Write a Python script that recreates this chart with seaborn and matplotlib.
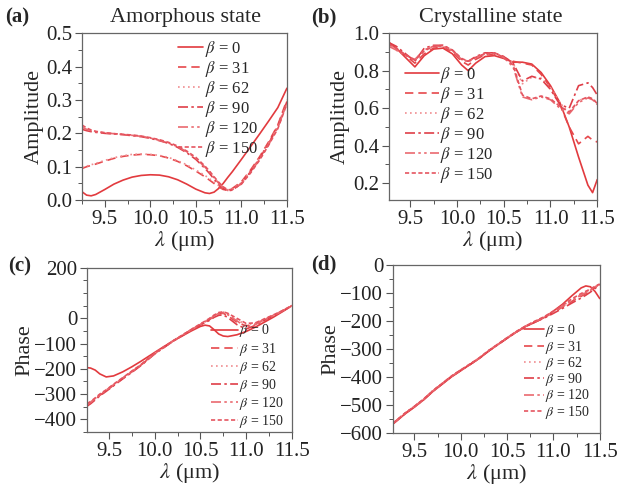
import matplotlib
matplotlib.use("Agg")
import matplotlib.pyplot as plt
from matplotlib.ticker import MultipleLocator
import numpy as np
import pandas as pd
import seaborn as sns

# values

betas = [0, 31, 62, 90, 120, 150]

# (a) amorphous state amplitude
wl_a = [9.25, 9.3, 9.35, 9.4, 9.5, 9.6, 9.7, 9.8, 9.9, 10.0, 10.1, 10.2, 10.3, 10.4,
        10.5, 10.6, 10.65, 10.7, 10.75, 10.8, 10.85, 10.9, 11.0, 11.1, 11.2, 11.3, 11.4, 11.5]
amp_a_0 = [0.025, 0.015, 0.013, 0.017, 0.032, 0.048, 0.060, 0.069, 0.074, 0.076, 0.075, 0.070, 0.061, 0.048,
           0.033, 0.022, 0.020, 0.024, 0.035, 0.050, 0.068, 0.085, 0.122, 0.160, 0.198, 0.237, 0.277, 0.335]
amp_a_31 = [0.095, 0.100, 0.104, 0.108, 0.117, 0.125, 0.131, 0.135, 0.137, 0.136, 0.133, 0.126, 0.116, 0.103,
            0.087, 0.070, 0.060, 0.050, 0.040, 0.032, 0.030, 0.035, 0.055, 0.090, 0.130, 0.175, 0.225, 0.300]
amp_a_62 = [0.098, 0.102, 0.106, 0.110, 0.119, 0.127, 0.133, 0.137, 0.138, 0.137, 0.134, 0.128, 0.118, 0.106,
            0.090, 0.074, 0.064, 0.054, 0.044, 0.035, 0.031, 0.034, 0.052, 0.087, 0.127, 0.172, 0.222, 0.295]
amp_a_90 = [0.212, 0.208, 0.205, 0.203, 0.200, 0.198, 0.196, 0.193, 0.190, 0.185, 0.178, 0.170, 0.158, 0.142,
            0.122, 0.095, 0.080, 0.063, 0.048, 0.035, 0.028, 0.030, 0.050, 0.085, 0.125, 0.170, 0.220, 0.295]
amp_a_120 = [0.218, 0.212, 0.208, 0.205, 0.201, 0.199, 0.197, 0.194, 0.191, 0.186, 0.179, 0.171, 0.160, 0.145,
             0.125, 0.099, 0.084, 0.067, 0.051, 0.037, 0.029, 0.031, 0.049, 0.083, 0.122, 0.167, 0.217, 0.290]
amp_a_150 = [0.225, 0.216, 0.210, 0.206, 0.202, 0.199, 0.197, 0.195, 0.192, 0.187, 0.181, 0.173, 0.162, 0.147,
             0.128, 0.102, 0.087, 0.070, 0.054, 0.040, 0.031, 0.032, 0.048, 0.081, 0.120, 0.165, 0.214, 0.288]

# (b) crystalline state amplitude
wl_b = [9.27, 9.35, 9.45, 9.55, 9.65, 9.75, 9.85, 9.95, 10.05, 10.12, 10.2, 10.3, 10.4, 10.5,
        10.6, 10.7, 10.8, 10.9, 11.0, 11.1, 11.2, 11.3, 11.4, 11.45, 11.5]
amp_b_0 = [0.95, 0.92, 0.87, 0.82, 0.88, 0.915, 0.92, 0.89, 0.83, 0.80, 0.84, 0.875, 0.88, 0.865,
           0.845, 0.845, 0.835, 0.79, 0.72, 0.63, 0.50, 0.34, 0.19, 0.15, 0.22]
amp_b_31 = [0.95, 0.92, 0.88, 0.84, 0.89, 0.92, 0.925, 0.90, 0.85, 0.83, 0.86, 0.885, 0.885, 0.87,
            0.85, 0.84, 0.83, 0.78, 0.71, 0.62, 0.50, 0.41, 0.45, 0.43, 0.42]
amp_b_62 = [0.94, 0.91, 0.88, 0.86, 0.91, 0.93, 0.93, 0.91, 0.86, 0.845, 0.87, 0.89, 0.89, 0.875,
            0.84, 0.73, 0.765, 0.76, 0.71, 0.63, 0.57, 0.64, 0.66, 0.65, 0.63]
amp_b_90 = [0.95, 0.93, 0.89, 0.85, 0.92, 0.935, 0.935, 0.91, 0.86, 0.85, 0.875, 0.895, 0.895, 0.875,
            0.84, 0.745, 0.77, 0.755, 0.70, 0.62, 0.60, 0.72, 0.735, 0.71, 0.67]
amp_b_120 = [0.93, 0.91, 0.88, 0.86, 0.91, 0.93, 0.93, 0.905, 0.86, 0.85, 0.87, 0.89, 0.895, 0.87,
             0.82, 0.66, 0.645, 0.66, 0.645, 0.60, 0.57, 0.63, 0.655, 0.645, 0.62]
amp_b_150 = [0.94, 0.92, 0.885, 0.855, 0.905, 0.93, 0.935, 0.91, 0.865, 0.85, 0.87, 0.89, 0.895, 0.87,
             0.83, 0.67, 0.65, 0.665, 0.65, 0.61, 0.58, 0.64, 0.66, 0.65, 0.625]

# (c) amorphous state phase
wl_c = [9.26, 9.3, 9.35, 9.4, 9.47, 9.55, 9.65, 9.75, 9.85, 10.0, 10.1, 10.2, 10.3, 10.4,
        10.5, 10.55, 10.6, 10.65, 10.7, 10.75, 10.8, 10.9, 11.0, 11.1, 11.2, 11.3, 11.4, 11.5]
ph_c_0 = [-195, -197, -205, -220, -232, -228, -212, -192, -170, -135, -112, -90, -70, -50,
          -32, -27, -30, -45, -62, -70, -72, -65, -52, -35, -15, 5, 27, 50]
ph_c_31 = [-345, -335, -320, -305, -287, -265, -238, -212, -185, -140, -115, -90, -68, -45,
           -25, -15, -5, 8, 18, 20, 10, -15, -30, -22, -5, 12, 30, 50]
ph_c_62 = [-340, -331, -317, -302, -284, -262, -236, -210, -184, -139, -114, -89, -67, -44,
           -23, -12, -1, 12, 22, 25, 18, -5, -25, -20, -3, 13, 31, 50]
ph_c_90 = [-348, -338, -323, -307, -289, -267, -240, -214, -187, -141, -116, -91, -69, -46,
           -26, -17, -8, 4, 12, 14, 3, -25, -42, -28, -8, 10, 29, 49]
ph_c_120 = [-342, -333, -318, -303, -285, -263, -237, -211, -185, -140, -115, -90, -68, -45,
            -24, -14, -3, 10, 20, 22, 14, -10, -35, -25, -6, 11, 30, 50]
ph_c_150 = [-338, -329, -315, -300, -283, -261, -235, -209, -183, -138, -113, -89, -67, -44,
            -22, -11, 0, 13, 23, 26, 20, 0, -20, -18, -2, 14, 31, 51]

# (d) crystalline state phase
wl_d = [9.27, 9.4, 9.5, 9.6, 9.7, 9.8, 9.9, 10.0, 10.1, 10.2, 10.3, 10.4, 10.5,
        10.6, 10.7, 10.8, 10.9, 11.0, 11.1, 11.2, 11.3, 11.35, 11.4, 11.45, 11.5]
ph_d_0 = [-568, -532, -508, -482, -452, -426, -400, -378, -356, -334, -308, -285, -262,
          -240, -220, -205, -188, -165, -140, -110, -82, -75, -78, -95, -120]
ph_d_31 = [-566, -530, -506, -480, -450, -424, -398, -376, -355, -333, -307, -284, -261,
           -239, -219, -203, -188, -170, -150, -130, -112, -102, -92, -80, -68]
ph_d_62 = [-565, -529, -505, -479, -449, -423, -397, -375, -354, -332, -306, -283, -260,
           -238, -218, -202, -186, -167, -146, -125, -106, -97, -88, -78, -70]
ph_d_90 = [-567, -531, -507, -481, -451, -425, -399, -377, -356, -334, -308, -285, -262,
           -240, -220, -204, -190, -173, -155, -136, -118, -108, -97, -84, -70]
ph_d_120 = [-566, -530, -506, -480, -450, -424, -398, -376, -355, -333, -307, -284, -261,
            -239, -219, -203, -187, -168, -148, -127, -108, -99, -90, -79, -69]
ph_d_150 = [-565, -529, -505, -479, -449, -423, -397, -375, -354, -332, -306, -283, -260,
            -238, -218, -201, -185, -165, -143, -121, -102, -94, -86, -76, -68]

amp_a = [amp_a_0, amp_a_31, amp_a_62, amp_a_90, amp_a_120, amp_a_150]
amp_b = [amp_b_0, amp_b_31, amp_b_62, amp_b_90, amp_b_120, amp_b_150]
ph_c = [ph_c_0, ph_c_31, ph_c_62, ph_c_90, ph_c_120, ph_c_150]
ph_d = [ph_d_0, ph_d_31, ph_d_62, ph_d_90, ph_d_120, ph_d_150]

# line looks for beta = 0 ... 150
styles = ['-', (0, (5, 3)), (0, (1, 2)), (0, (6, 2, 1.5, 2)), (0, (6, 2, 1.5, 2, 1.5, 2)), (0, (2.5, 1.5))]
colors = ['#e23a3e', '#e6484c', '#f08c90', '#df3e48', '#ea6a70', '#e55560']

sns.set_style("ticks")
plt.rcParams['font.family'] = ['Liberation Serif', 'DejaVu Serif']
plt.rcParams['mathtext.fontset'] = 'stix'

fig = plt.figure(figsize=(6.17, 4.87), dpi=100)

ax_a = fig.add_axes([0.133, 0.589, 0.332, 0.343])
ax_b = fig.add_axes([0.630, 0.589, 0.338, 0.343])
ax_c = fig.add_axes([0.141, 0.113, 0.332, 0.337])
ax_d = fig.add_axes([0.637, 0.111, 0.335, 0.345])


def draw(ax, wl, curves):
    for i in range(6):
        df = pd.DataFrame({'wl': wl, 'val': curves[i]})
        sns.lineplot(data=df, x='wl', y='val', ax=ax, color=colors[i], linestyle=styles[i],
                     linewidth=1.2, label=r'$\beta$ = ' + str(betas[i]), sort=False)
    for s in ax.spines.values():
        s.set_color('#666666')
        s.set_linewidth(0.9)
    ax.tick_params(which='both', direction='out', colors='#555555', labelcolor='#222222',
                   labelsize=15, pad=2)
    ax.tick_params(which='major', length=5, width=0.8)
    ax.tick_params(which='minor', length=3, width=0.7)
    ax.xaxis.set_major_locator(MultipleLocator(0.5))
    ax.xaxis.set_minor_locator(MultipleLocator(0.25))
    ax.set_xlabel(r'$\lambda$ (μm)', fontsize=16, labelpad=0)


draw(ax_a, wl_a, amp_a)
ax_a.set_xlim(9.25, 11.5)
ax_a.set_ylim(0, 0.5)
ax_a.yaxis.set_major_locator(MultipleLocator(0.1))
ax_a.yaxis.set_minor_locator(MultipleLocator(0.05))
ax_a.set_ylabel('Amplitude', fontsize=16, labelpad=2)
ax_a.legend(loc='upper right', bbox_to_anchor=(0.9, 1.015), frameon=False, fontsize=12,
            handlelength=1.5, handletextpad=0.1, labelspacing=0.0, borderpad=0)

draw(ax_b, wl_b, amp_b)
ax_b.set_xlim(9.27, 11.5)
ax_b.set_ylim(0.11, 1.0)
ax_b.yaxis.set_major_locator(MultipleLocator(0.2))
ax_b.yaxis.set_minor_locator(MultipleLocator(0.1))
ax_b.set_ylabel('Amplitude', fontsize=16, labelpad=2)
ax_b.legend(loc='upper left', bbox_to_anchor=(0.04, 0.86), frameon=False, fontsize=12,
            handlelength=2.0, handletextpad=0.1, labelspacing=0.0, borderpad=0)

draw(ax_c, wl_c, ph_c)
ax_c.set_xlim(9.26, 11.5)
ax_c.set_ylim(-450, 200)
ax_c.yaxis.set_major_locator(MultipleLocator(100))
ax_c.yaxis.set_minor_locator(MultipleLocator(50))
ax_c.set_yticks([200, 0, -100, -200, -300, -400])
ax_c.set_ylabel('Phase', fontsize=16, labelpad=0)
ax_c.legend(loc='upper right', bbox_to_anchor=(0.995, 0.71), frameon=False, fontsize=10,
            handlelength=1.9, handletextpad=0.1, labelspacing=0.08, borderpad=0)

draw(ax_d, wl_d, ph_d)
ax_d.set_xlim(9.27, 11.5)
ax_d.set_ylim(-600, 0)
ax_d.yaxis.set_major_locator(MultipleLocator(100))
ax_d.yaxis.set_minor_locator(MultipleLocator(50))
ax_d.set_ylabel('Phase', fontsize=16, labelpad=0)
ax_d.legend(loc='upper right', bbox_to_anchor=(0.985, 0.70), frameon=False, fontsize=10,
            handlelength=1.4, handletextpad=0.1, labelspacing=-0.05, borderpad=0)

# panel letters and titles
fig.text(0.008, 0.965, '(a)', fontsize=15, fontweight='bold', va='center')
fig.text(0.505, 0.965, '(b)', fontsize=15, fontweight='bold', va='center')
fig.text(0.013, 0.452, '(c)', fontsize=15, fontweight='bold', va='center')
fig.text(0.505, 0.456, '(d)', fontsize=15, fontweight='bold', va='center')
fig.text(0.30, 0.965, 'Amorphous state', fontsize=16, ha='center', va='center')
fig.text(0.795, 0.965, 'Crystalline state', fontsize=16, ha='center', va='center')

fig.savefig('out.png', dpi=100)
